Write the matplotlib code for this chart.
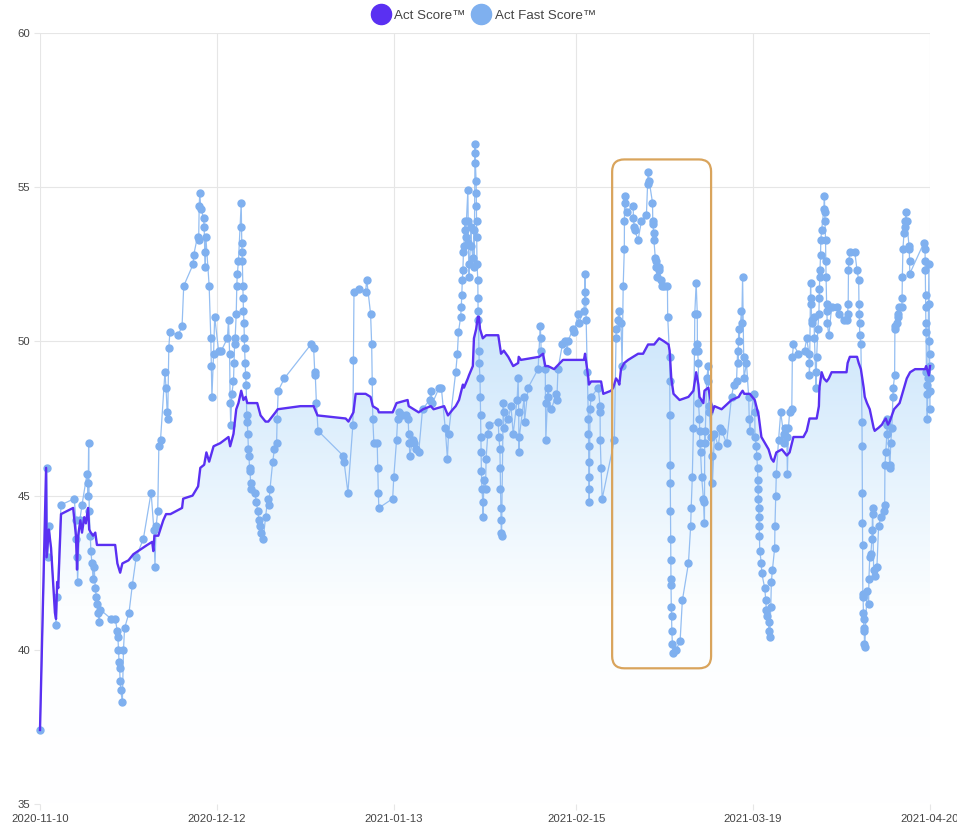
import numpy as np
import matplotlib.pyplot as plt
import matplotlib.dates as mdates
from matplotlib.colors import LinearSegmentedColormap
from matplotlib.lines import Line2D
from matplotlib.patches import FancyBboxPatch

plt.rcParams['font.family'] = ['Liberation Sans', 'DejaVu Sans']

start_date = '2020-11-10'
tick_dates = ['2020-11-10', '2020-12-12', '2021-01-13', '2021-02-15', '2021-03-19', '2021-04-20']
series_names = ['Act Score\u2122', 'Act Fast Score\u2122']

# Act Score (days since start, value)
score_days = [0.0, 1.1, 1.2, 1.6, 2.0, 2.7, 2.9, 3.1, 3.3, 3.8,
              6.0, 6.5, 6.7, 6.9, 7.3, 7.6, 8.0, 8.3, 8.7, 8.9,
              9.2, 9.6, 10.0, 10.3, 13.6, 14.0, 14.5, 14.9, 16.0, 16.9,
              19.4, 20.3, 20.5, 20.7, 21.4, 22.3, 22.8, 23.6, 25.7, 25.9,
              27.6, 28.6, 29.0, 29.7, 30.1, 30.6, 31.4, 32.6, 34.1, 34.4,
              35.0, 35.5, 35.9, 36.4, 36.8, 37.2, 37.5, 38.1, 39.3, 39.9,
              40.8, 41.3, 42.6, 43.0, 47.1, 49.5, 50.2, 55.3, 55.8, 56.7,
              57.1, 58.9, 59.8, 60.2, 61.1, 61.3, 63.8, 64.5, 66.5, 66.7,
              67.6, 68.5, 69.3, 70.7, 71.2, 73.1, 73.8, 74.7, 75.2, 75.8,
              76.5, 76.7, 77.4, 77.6, 78.3, 78.5, 78.9, 79.2, 79.4, 79.6,
              80.1, 80.7, 82.9, 83.4, 83.9, 84.7, 85.6, 86.5, 86.6, 87.0,
              90.3, 91.0, 91.4, 91.9, 93.0, 94.6, 95.5, 98.4, 98.6, 99.2,
              99.3, 99.7, 101.5, 101.9, 103.3, 103.7, 104.2, 104.6, 104.8, 105.1,
              105.7, 106.4, 107.3, 108.2, 109.1, 109.7, 110.0, 111.1, 112.0, 112.9,
              113.7, 113.9, 114.2, 114.6, 115.7, 117.3, 118.2, 118.7, 119.1, 119.3,
              120.0, 120.2, 120.9, 121.1, 121.5, 121.6, 122.0, 123.3, 125.1, 126.4,
              126.7, 127.1, 127.4, 128.4, 129.3, 130.0, 130.5, 131.8, 132.3, 132.7,
              133.2, 134.2, 135.1, 135.6, 136.3, 138.1, 138.7, 139.2, 140.0, 140.5,
              140.9, 141.0, 141.4, 141.8, 142.3, 142.7, 143.2, 145.9, 146.1, 146.5,
              147.2, 147.8, 148.1, 148.5, 149.0, 149.2, 149.6, 150.1, 150.8, 151.0,
              151.7, 152.3, 152.6, 153.0, 153.4, 153.7, 154.5, 155.0, 155.5, 156.3,
              156.8, 157.4, 158.3, 160.1, 160.3, 160.8, 161.0]
score_vals = [37.4, 45.9, 43.0, 43.9, 43.3, 41.2, 41.0, 42.2, 42.0, 44.4,
              44.6, 43.7, 42.6, 43.7, 44.2, 43.8, 44.3, 44.1, 44.6, 43.9,
              43.8, 43.7, 43.8, 43.4, 43.4, 42.8, 42.5, 42.8, 42.9, 43.1,
              43.4, 43.5, 43.2, 43.7, 43.7, 44.2, 44.4, 44.4, 44.6, 44.9,
              45.0, 45.3, 45.9, 46.0, 46.4, 46.1, 46.6, 46.7, 46.9, 46.6,
              47.0, 47.8, 48.0, 48.4, 48.1, 48.2, 48.0, 48.0, 48.0, 47.6,
              47.4, 47.4, 47.7, 47.8, 47.9, 47.9, 47.6, 47.5, 47.4, 47.7,
              48.3, 48.3, 48.2, 47.9, 47.8, 47.7, 47.7, 48.0, 48.1, 47.9,
              47.8, 47.7, 47.8, 47.9, 47.8, 47.9, 47.6, 47.8, 47.9, 48.1,
              48.6, 48.5, 48.8, 48.9, 49.2, 50.1, 50.4, 50.8, 50.8, 50.4,
              50.1, 50.2, 50.2, 49.6, 49.7, 49.5, 49.2, 49.3, 49.5, 49.4,
              49.5, 49.6, 49.2, 49.2, 49.1, 49.4, 49.4, 49.4, 49.6, 48.8,
              48.6, 48.7, 48.7, 48.3, 48.4, 48.5, 48.8, 48.7, 48.6, 49.1,
              49.3, 49.4, 49.5, 49.6, 49.6, 49.8, 49.9, 49.9, 50.1, 50.0,
              49.9, 49.7, 48.8, 48.3, 48.1, 48.2, 48.4, 49.0, 48.6, 48.2,
              48.0, 48.4, 48.5, 48.3, 47.9, 47.7, 47.9, 47.8, 48.1, 48.2,
              48.3, 48.4, 48.3, 48.3, 48.1, 47.6, 46.9, 46.5, 46.2, 46.1,
              46.4, 46.5, 46.3, 46.4, 46.9, 46.9, 47.1, 47.5, 47.5, 47.5,
              47.9, 48.5, 49.0, 48.8, 48.7, 48.8, 49.0, 49.0, 49.3, 49.5,
              49.5, 49.5, 49.3, 49.1, 48.5, 48.2, 48.0, 47.8, 47.2, 47.1,
              47.2, 47.3, 47.4, 47.5, 47.3, 47.4, 47.8, 47.9, 48.0, 48.5,
              48.8, 49.0, 49.1, 49.1, 49.2, 48.9, 49.2]

# Act Fast Score, in pieces
fast_days_1 = [0.0, 1.2, 1.4, 1.7, 2.9, 3.1, 3.8, 6.2, 6.5, 6.6,
               6.7, 6.8, 7.2, 7.6, 8.5, 8.6, 8.7, 8.8, 8.9, 9.1,
               9.2, 9.4, 9.6, 9.8, 10.0, 10.2, 10.4, 10.5, 10.7, 10.9,
               12.9, 13.6, 14.0, 14.1, 14.2, 14.3, 14.4, 14.5, 14.6, 14.9,
               15.1, 15.3, 16.1, 16.7, 17.4, 18.7, 20.1, 20.6, 20.8, 21.0,
               21.3, 21.5, 21.8]
fast_vals_1 = [37.4, 45.9, 43.0, 44.0, 40.8, 41.7, 44.7, 44.9, 44.2, 43.6,
               43.0, 42.2, 44.2, 44.7, 45.7, 45.4, 45.0, 46.7, 44.5, 43.7,
               43.2, 42.8, 42.3, 42.7, 42.0, 41.7, 41.5, 41.2, 40.9, 41.3,
               41.0, 41.0, 40.6, 40.4, 40.0, 39.6, 39.4, 39.0, 38.7, 38.3,
               40.0, 40.7, 41.2, 42.1, 43.0, 43.6, 45.1, 43.9, 42.7, 44.0,
               44.5, 46.6, 46.8]

fast_days_2 = [22.6, 22.8, 23.0, 23.1, 23.3, 23.5, 25.0, 25.7, 26.0, 27.7,
               27.8, 28.5, 28.7, 28.8, 28.9, 29.1, 29.6, 29.7, 29.8, 29.9,
               30.0, 30.6, 30.9, 31.0, 31.1, 31.4, 31.6, 32.3, 32.8, 33.9,
               34.1, 34.3, 34.4, 34.5, 34.7, 35.0, 35.1, 35.2, 35.3, 35.5,
               35.6, 35.7, 35.9, 36.4, 36.45, 36.5, 36.55, 36.6, 36.7, 36.75,
               36.8, 36.9, 36.95, 37.0, 37.1, 37.2, 37.3, 37.4, 37.5, 37.6,
               37.7, 37.8, 37.9, 38.0, 38.1, 38.2, 38.9, 39.1, 39.4, 39.6,
               39.8, 40.0, 40.4, 40.8, 41.2, 41.4, 41.6, 42.1, 42.4, 42.8,
               42.9, 43.1, 44.2]
fast_vals_2 = [49.0, 48.5, 47.7, 47.5, 49.8, 50.3, 50.2, 50.5, 51.8, 52.5,
               52.8, 53.4, 53.3, 54.4, 54.8, 54.3, 54.0, 53.7, 52.9, 52.4,
               53.4, 51.8, 50.1, 49.2, 48.2, 49.6, 50.8, 49.7, 49.7, 50.1,
               50.7, 49.6, 48.0, 47.3, 48.3, 48.7, 49.3, 49.9, 50.1, 50.9,
               51.8, 52.2, 52.6, 54.5, 53.7, 53.2, 52.9, 52.6, 51.8, 51.4,
               51.0, 50.6, 50.1, 49.8, 49.3, 48.9, 48.6, 47.6, 47.4, 47.0,
               46.5, 46.3, 45.9, 45.8, 45.4, 45.2, 45.1, 44.8, 44.5, 44.2,
               44.0, 43.8, 43.6, 44.3, 44.9, 44.7, 45.2, 46.1, 46.5, 46.7,
               47.5, 48.4, 48.8]

fast_days_3 = [49.0, 49.5, 49.7, 49.8, 50.0, 50.3, 54.8, 55.0, 55.7, 56.6,
               56.7, 56.8, 57.7, 58.9, 59.1, 59.8, 60.0, 60.1, 60.2, 60.4,
               61.0, 61.1, 61.2, 61.3, 63.8, 64.0, 64.5, 64.7, 64.9, 65.5,
               66.2, 66.6, 66.7, 66.8, 66.9, 67.4, 67.7, 68.0, 68.5, 69.2,
               70.5, 70.7, 71.0, 72.2, 72.6, 73.3, 73.7, 73.9, 75.2, 75.5,
               75.7, 76.1, 76.2, 76.3, 76.4, 76.5, 76.6, 76.7, 76.8, 76.9,
               77.0, 77.4]
fast_vals_3 = [49.9, 49.8, 49.0, 48.9, 48.0, 47.1, 46.3, 46.1, 45.1, 47.3,
               49.4, 51.6, 51.7, 51.6, 52.0, 50.9, 49.9, 48.7, 47.5, 46.7,
               46.7, 45.9, 45.1, 44.6, 44.9, 45.6, 46.8, 47.5, 47.7, 47.6,
               47.6, 47.5, 47.0, 46.7, 46.3, 46.8, 46.7, 46.5, 46.4, 47.8,
               48.1, 48.4, 48.0, 48.5, 48.5, 47.2, 46.2, 47.0, 49.0, 49.6,
               50.3, 50.8, 51.1, 51.5, 52.0, 52.3, 52.9, 53.1, 53.6, 53.9,
               53.4, 54.9]

fast_days_4 = [77.45, 77.5, 77.55, 77.6, 78.0, 78.05, 78.3, 78.5, 78.55, 78.7,
               78.72, 78.75, 78.9, 78.92, 78.95, 78.97, 79.0, 79.05, 79.2, 79.22,
               79.25, 79.3, 79.4, 79.45, 79.6, 79.65, 79.7, 79.75, 79.8, 79.85,
               79.95, 80.1, 80.15, 80.3, 80.6, 80.7, 81.0, 81.2, 82.9, 83.0,
               83.2, 83.25, 83.3, 83.35, 83.4, 83.45, 83.5, 83.8, 83.85, 83.9,
               84.7, 85.2, 85.6, 86.3, 86.5, 86.6, 86.65, 86.7, 87.6, 87.65,
               88.3, 90.1, 90.5, 90.6, 90.65, 91.4, 91.45, 91.5, 91.9, 91.95,
               92.5, 93.4, 93.5, 93.7, 94.5, 95.0, 95.4, 95.5, 96.4, 96.6,
               97.4, 97.45, 98.4, 98.5, 98.55, 98.6, 98.8, 99.0, 99.2, 99.22,
               99.25, 99.27, 99.3, 99.32, 99.35, 99.5, 99.7, 101.0, 101.3, 101.32,
               101.35, 101.5, 101.7, 103.9]
fast_vals_4 = [53.9, 53.2, 52.5, 52.1, 53.7, 53.1, 52.7, 53.6, 52.4, 56.4,
               56.1, 55.8, 55.2, 54.8, 54.4, 53.9, 53.4, 52.5, 52.0, 51.4,
               51.0, 50.7, 49.7, 49.3, 48.8, 48.2, 47.6, 46.9, 46.4, 45.8,
               45.2, 44.8, 44.3, 45.5, 45.2, 46.2, 47.0, 47.3, 47.4, 46.9,
               46.5, 45.9, 45.2, 44.6, 44.2, 43.8, 43.7, 48.0, 47.7, 47.2,
               47.5, 47.9, 47.0, 48.1, 48.8, 47.7, 46.4, 46.9, 48.2, 47.4,
               48.5, 49.1, 50.5, 50.1, 49.7, 49.1, 48.0, 46.8, 48.5, 48.2,
               47.8, 48.3, 48.1, 49.1, 49.9, 50.0, 49.7, 50.0, 50.4, 50.3,
               50.9, 50.6, 51.0, 51.3, 51.6, 52.2, 50.7, 49.0, 47.5, 47.0,
               46.6, 46.1, 45.6, 45.2, 44.8, 47.8, 48.2, 48.5, 47.9, 47.7,
               46.8, 45.9, 44.9, 46.8]

fast_days_5 = [104.2, 104.25, 104.6, 104.65, 105.1, 105.3, 105.5, 105.7, 105.72, 105.75,
               105.8, 106.1, 107.3, 107.35, 107.5, 107.55, 108.2, 108.8, 109.7, 109.9,
               110.0, 110.2, 110.8, 110.85, 110.9, 111.0, 111.05, 111.3, 111.35, 111.5,
               111.55, 112.0, 112.05, 112.4, 112.45, 112.9, 113.5, 113.55, 113.9, 113.92,
               113.95, 114.0, 114.02, 114.05, 114.07, 114.1, 114.12, 114.15, 114.2, 114.25,
               114.3, 114.4, 114.45, 115.1, 115.8, 116.2, 117.3, 117.7, 117.8, 118.0,
               118.2, 118.4, 118.45, 118.7, 118.9, 118.92, 118.95, 119.1, 119.12, 119.3,
               119.32, 119.35, 119.5, 119.7, 120.0, 120.05, 120.2, 120.25, 120.3, 120.6,
               120.9, 120.92, 120.95, 121.1, 121.3, 121.6, 121.65, 122.0, 122.7, 123.1]
fast_vals_5 = [50.1, 50.4, 50.7, 51.0, 50.6, 49.2, 51.8, 53.0, 53.9, 54.7,
               54.5, 54.2, 54.4, 54.0, 53.7, 53.6, 53.3, 53.9, 54.1, 55.1,
               55.5, 55.2, 54.5, 53.9, 53.8, 53.5, 53.3, 52.7, 52.6, 52.4,
               52.1, 52.4, 52.3, 52.0, 51.8, 51.8, 51.8, 50.8, 49.5, 48.7,
               47.6, 46.0, 45.4, 44.5, 43.6, 42.9, 42.3, 42.1, 41.4, 41.1,
               40.6, 40.2, 39.9, 40.0, 40.3, 41.6, 42.8, 44.0, 44.6, 45.6,
               47.2, 49.7, 50.9, 51.9, 50.9, 49.9, 49.7, 49.3, 48.0, 47.5,
               47.1, 46.7, 46.4, 45.6, 44.9, 44.8, 44.1, 47.1, 46.7, 48.8,
               49.2, 48.7, 47.9, 47.7, 46.9, 46.3, 45.4, 47.0, 46.6, 47.2]

fast_days_6 = [123.3, 124.2, 125.1, 125.5, 126.0, 126.2, 126.25, 126.4, 126.45, 126.9,
               126.95, 127.1, 127.3, 127.35, 127.8, 128.2, 128.3, 128.4, 129.1, 129.3,
               129.35, 129.6, 129.65, 129.8, 129.85, 129.9, 129.95, 130.0, 130.05, 130.1,
               130.15, 130.2, 130.5, 130.55, 131.1, 131.3, 131.4, 131.45, 131.8, 131.85,
               132.0, 132.2, 132.3, 132.5, 132.9, 132.95, 133.1, 133.2, 133.6, 134.0,
               134.5, 134.55, 134.7, 135.1, 135.2, 135.4, 135.6, 136.0, 136.1, 136.3,
               137.2, 138.3, 138.7, 139.1, 139.15, 139.2, 139.4, 139.45, 139.5, 139.6,
               139.65, 140.0, 140.1, 140.3, 140.35, 140.5, 140.7, 140.9, 140.95, 141.0,
               141.05, 141.1, 141.2, 141.25, 141.4, 141.8, 141.9, 141.95, 142.0, 142.1,
               142.15, 142.2, 142.3, 142.35, 142.4, 142.7, 143.2, 144.1, 144.5, 145.4,
               145.9, 146.1, 146.2, 146.25, 146.3, 146.5, 147.4, 147.8, 148.1, 148.15,
               148.2, 148.25, 148.3, 148.5, 148.7, 148.72, 148.75, 148.78, 148.8, 148.85,
               148.9, 148.95, 149.0, 149.05, 149.1, 149.15, 149.2, 149.6, 149.9, 149.95,
               150.1, 150.3, 150.5, 150.55, 150.6, 150.65, 150.8, 151.0, 151.4, 151.7,
               152.1, 152.6, 152.8, 152.85, 153.0, 153.2, 153.25, 153.3, 153.7, 153.75,
               153.9, 154.1, 154.3, 154.35, 154.6, 154.65, 154.7, 155.0, 155.2, 155.25,
               155.4, 155.9, 155.95, 156.0, 156.1, 156.3, 156.5, 156.55, 156.6, 156.8,
               157.2, 157.25, 157.3, 157.35, 159.9, 160.1, 160.12, 160.15, 160.2, 160.22,
               160.25, 160.3, 160.35, 160.4, 160.45, 160.5, 160.6, 160.8, 160.85, 160.9,
               160.92, 160.95, 160.97, 160.98, 161.0]
fast_vals_6 = [47.1, 46.7, 48.2, 48.6, 48.7, 49.7, 49.3, 50.4, 50.0, 51.0,
               50.6, 52.1, 49.5, 48.8, 49.3, 48.2, 47.5, 47.1, 48.3, 47.7,
               46.9, 46.6, 46.3, 45.9, 45.5, 45.2, 44.9, 44.6, 44.3, 44.0,
               43.7, 43.2, 42.8, 42.5, 42.0, 41.6, 41.3, 41.1, 40.9, 40.6,
               40.4, 41.4, 42.2, 42.6, 43.3, 44.0, 45.0, 45.7, 46.8, 47.7,
               47.0, 46.7, 47.2, 46.9, 45.7, 47.2, 47.7, 47.8, 49.5, 49.9,
               49.6, 49.7, 50.1, 49.6, 49.3, 48.9, 51.9, 51.4, 51.2, 50.7,
               50.6, 50.8, 50.1, 49.0, 48.5, 49.5, 50.4, 50.9, 51.4, 51.7,
               52.1, 52.3, 52.8, 53.3, 53.6, 54.3, 54.7, 54.2, 53.9, 53.3,
               52.6, 52.1, 51.2, 51.0, 50.6, 50.2, 51.1, 51.1, 50.9, 50.7,
               50.7, 50.9, 51.2, 52.3, 52.6, 52.9, 52.9, 52.3, 52.0, 51.2,
               50.9, 50.6, 50.2, 49.9, 47.4, 46.6, 45.1, 44.1, 43.4, 41.8,
               41.7, 41.2, 41.0, 40.7, 40.6, 40.2, 40.1, 41.9, 41.5, 42.3,
               43.0, 43.1, 43.6, 43.9, 44.6, 44.4, 42.6, 42.4, 42.7, 44.0,
               44.3, 44.5, 44.7, 46.0, 46.4, 47.0, 47.5, 47.3, 46.0, 45.9,
               46.7, 47.2, 48.2, 48.5, 48.9, 50.4, 50.5, 50.6, 50.9, 50.8,
               51.1, 51.1, 51.4, 52.1, 53.0, 53.5, 53.7, 53.9, 54.2, 53.9,
               53.1, 53.0, 52.6, 52.2, 53.2, 53.0, 52.6, 52.3, 51.5, 51.1,
               50.6, 50.3, 49.0, 48.6, 48.3, 47.5, 48.8, 52.5, 51.2, 50.0,
               49.6, 49.2, 48.8, 48.4, 47.8]

# highlighted period (orange box)
box_days = [103.5, 121.4]
box_vals = [39.4, 55.9]

score_color = '#5a30f2'
fast_color = '#7fb0ef'
grid_color = '#e6e6e6'

t0 = mdates.datestr2num(start_date)
sx = t0 + np.array(score_days)
sv = np.array(score_vals)
fx = t0 + np.concatenate([fast_days_1, fast_days_2, fast_days_3,
                          fast_days_4, fast_days_5, fast_days_6])
fv = np.concatenate([fast_vals_1, fast_vals_2, fast_vals_3,
                     fast_vals_4, fast_vals_5, fast_vals_6])

fig = plt.figure(figsize=(9.57, 8.27), dpi=100)
ax = fig.add_axes([40 / 957, 23 / 827, 890 / 957, 771 / 827])

ymin, ymax = 35, 60

# gradient fill under the Act Score line
fill = ax.fill_between(sx, sv, ymin, facecolor='none', edgecolor='none')
cmap = LinearSegmentedColormap.from_list('fade', [(0, '#ffffff'), (0.4, '#fcfeff'), (1, '#cbe5fb')])
grad = np.linspace(0, 1, 256).reshape(-1, 1)
img = ax.imshow(grad, extent=[sx.min(), sx.max(), ymin, 51], origin='lower',
                aspect='auto', cmap=cmap, zorder=1)
img.set_clip_path(fill.get_paths()[0], transform=ax.transData)

ax.plot(fx, fv, color='#94bef2', lw=0.9, zorder=2, clip_on=False)
ax.plot(fx, fv, 'o', ms=5.0, color=fast_color, mec=fast_color, zorder=3, clip_on=False)
ax.plot(sx, sv, color=score_color, lw=1.7, zorder=4, clip_on=False)

box = FancyBboxPatch((t0 + box_days[0], box_vals[0]), box_days[1] - box_days[0],
                     box_vals[1] - box_vals[0],
                     boxstyle='round,pad=0,rounding_size=2.2', mutation_aspect=0.179,
                     fc='none', ec='#d9a45c', lw=1.6, zorder=5)
ax.add_patch(box)

ax.set_xlim(t0, t0 + 161)
ax.set_ylim(ymin, ymax)
ax.set_xticks(mdates.datestr2num(tick_dates))
ax.xaxis.set_major_formatter(mdates.DateFormatter('%Y-%m-%d'))
ax.set_yticks(np.arange(35, 61, 5))
ax.grid(True, color=grid_color, lw=0.8, zorder=0)
ax.set_axisbelow(True)
for s in ax.spines.values():
    s.set_visible(False)
ax.tick_params(axis='both', length=4, width=0.8, color=grid_color,
               labelsize=8.2, labelcolor='#444444', pad=3)

handles = [Line2D([], [], marker='o', ls='none', ms=14.5, color=score_color),
           Line2D([], [], marker='o', ls='none', ms=14.5, color=fast_color)]
fig.legend(handles, series_names, loc='center', bbox_to_anchor=(0.505, 1 - 16 / 827),
           ncol=2, frameon=False, fontsize=9.6, handlelength=1.5,
           handletextpad=0.25, columnspacing=0.45, labelcolor='#444444')

fig.savefig('out.png', dpi=100)
